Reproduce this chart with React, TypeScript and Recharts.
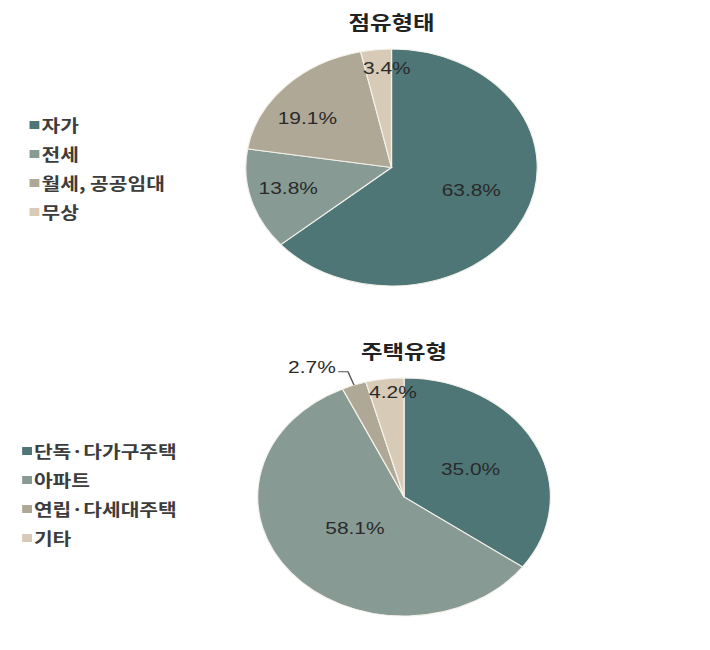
import { PieChart, Pie, Cell } from 'recharts';

// 점유형태
const tenureNames = ['자가', '전세', '월세, 공공임대', '무상'];
const tenureValues = [63.8, 13.8, 19.1, 3.4];

// 주택유형
const housingNames = ['단독·다가구주택', '아파트', '연립·다세대주택', '기타'];
const housingValues = [35.0, 58.1, 2.7, 4.2];

const colors = ['#4e7676', '#879b94', '#b0a897', '#d7cab6'];

// the source picture is stretched sideways, so everything is drawn narrow and scaled
const STRETCH = 1.23;
const W = 577;
const RAD = Math.PI / 180;
const labelFont = '"Liberation Sans", Arial, sans-serif';
const krFont = '"Noto Sans CJK KR", "Noto Sans", sans-serif';

type Spot = { k: number; turn: number };

function makeLabel(spots: Spot[], outside: number) {
  return (props: any) => {
    const { cx, cy, midAngle, outerRadius, index, value } = props;
    const text = `${Number(value).toFixed(1)}%`;
    if (index === outside) {
      const sx = cx + outerRadius * Math.cos(-midAngle * RAD);
      const sy = cy + outerRadius * Math.sin(-midAngle * RAD);
      const ex = cx + outerRadius * 1.12 * Math.cos(-midAngle * RAD);
      const ey = cy + outerRadius * 1.12 * Math.sin(-midAngle * RAD);
      return (
        <g>
          <polyline points={`${sx},${sy} ${ex},${ey} ${ex - 8},${ey}`} fill="none" stroke="#555" strokeWidth={1.2} />
          <text x={ex - 10} y={ey + 1} textAnchor="end" fill="#2a2a2a" fontSize={17} fontFamily={labelFont}>
            {text}
          </text>
        </g>
      );
    }
    const s = spots[index];
    const a = (midAngle + s.turn) * RAD;
    const r = outerRadius * s.k;
    return (
      <text
        x={cx + r * Math.cos(-a)}
        y={cy + r * Math.sin(-a)}
        textAnchor="middle"
        dominantBaseline="central"
        fill="#2a2a2a"
        fontSize={17}
        fontFamily={labelFont}
      >
        {text}
      </text>
    );
  };
}

const tenureSpots: Spot[] = [
  { k: 0.58, turn: 5.5 },
  { k: 0.73, turn: -1.8 },
  { k: 0.71, turn: 7.8 },
  { k: 0.84, turn: -3.9 },
];
const housingSpots: Spot[] = [
  { k: 0.51, turn: 0 },
  { k: 0.425, turn: -1.6 },
  { k: 1, turn: 0 },
  { k: 0.88, turn: -2.6 },
];

function SquareLegend({ names, left, top }: { names: string[]; left: number; top: number }) {
  return (
    <div style={{ position: 'absolute', left, top, fontFamily: krFont, fontSize: 16.5, fontWeight: 700, color: '#3c3c3c' }}>
      {names.map((n, i) => (
        <div key={n} style={{ display: 'flex', alignItems: 'center', height: 29 }}>
          <span style={{ width: 8, height: 8, background: colors[i], marginRight: 2, flex: 'none' }} />
          <span style={{ whiteSpace: 'nowrap' }}>{n}</span>
        </div>
      ))}
    </div>
  );
}

function PiePanel(props: {
  title: string;
  names: string[];
  values: number[];
  cx: number;
  cy: number;
  r: number;
  titleY: number;
  legendLeft: number;
  legendTop: number;
  spots: Spot[];
  outside: number;
  top: number;
}) {
  const data = props.names.map((name, i) => ({ name, value: props.values[i] }));
  return (
    <div style={{ position: 'absolute', left: 0, top: props.top, width: W, height: 325 }}>
      <div
        style={{
          position: 'absolute',
          left: props.cx - 100,
          width: 200,
          top: props.titleY - 14,
          height: 28,
          lineHeight: '28px',
          textAlign: 'center',
          fontFamily: krFont,
          fontWeight: 700,
          fontSize: 19,
          color: '#222',
        }}
      >
        {props.title}
      </div>
      <SquareLegend names={props.names} left={props.legendLeft} top={props.legendTop} />
      <PieChart width={W} height={325} margin={{ top: 0, right: 0, bottom: 0, left: 0 }} style={{ position: 'absolute', left: 0, top: 0 }}>
        <Pie
          data={data}
          dataKey="value"
          nameKey="name"
          cx={props.cx}
          cy={props.cy}
          outerRadius={props.r}
          startAngle={90}
          endAngle={-270}
          stroke="#f4f1ea"
          strokeWidth={1}
          labelLine={false}
          label={makeLabel(props.spots, props.outside)}
          isAnimationActive={false}
        >
          {data.map((d, i) => (
            <Cell key={d.name} fill={colors[i]} />
          ))}
        </Pie>
      </PieChart>
    </div>
  );
}

export default function App() {
  return (
    <div
      style={{
        position: 'absolute',
        left: 0,
        top: 0,
        width: W,
        height: 650,
        background: '#fff',
        transform: `scaleX(${STRETCH})`,
        transformOrigin: '0 0',
      }}
    >
      <PiePanel
        title="점유형태"
        names={tenureNames}
        values={tenureValues}
        cx={318.3}
        cy={167.5}
        r={118.5}
        titleY={22}
        legendLeft={23.8}
        legendTop={110.3}
        spots={tenureSpots}
        outside={-1}
        top={0}
      />
      <PiePanel
        title="주택유형"
        names={housingNames}
        values={housingValues}
        cx={328.5}
        cy={172}
        r={119}
        titleY={26}
        legendLeft={17.6}
        legendTop={111.2}
        spots={housingSpots}
        outside={2}
        top={325}
      />
    </div>
  );
}
